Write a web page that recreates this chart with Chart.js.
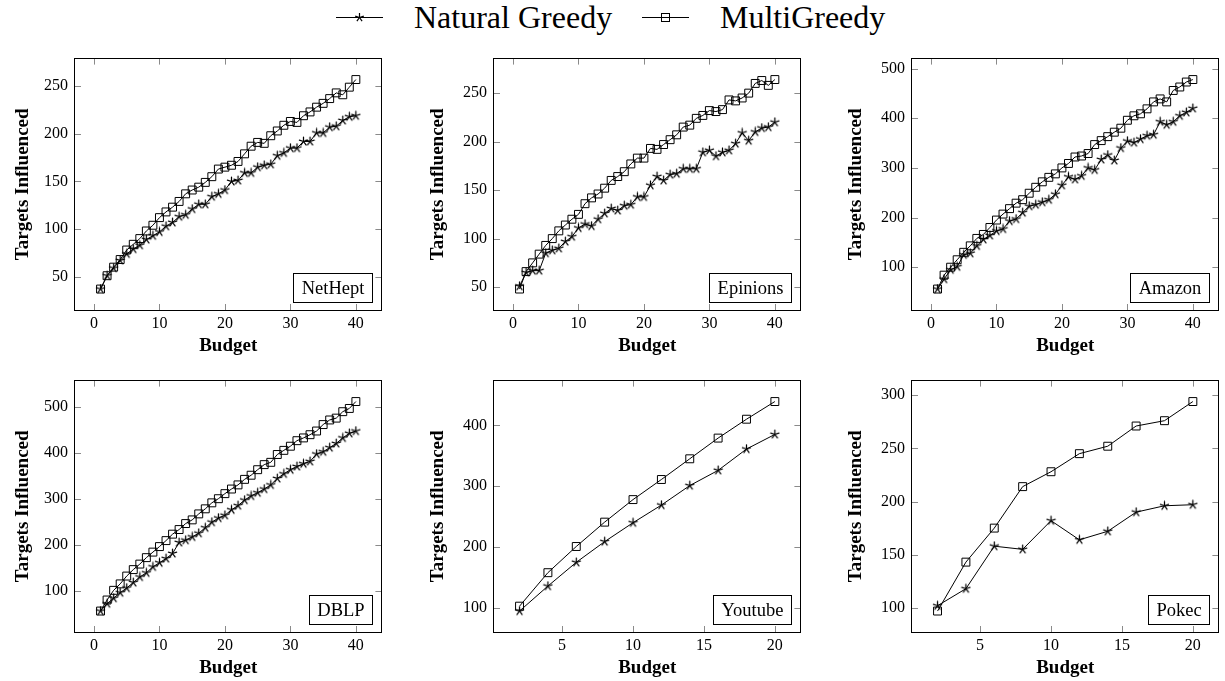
<!DOCTYPE html>
<html>
<head>
<meta charset="utf-8">
<script src="https://cdn.jsdelivr.net/npm/chart.js@4.4.0/dist/chart.umd.min.js"></script>
<style>
  html, body { margin: 0; padding: 0; background: #fff; }
  body { width: 1225px; height: 681px; overflow: hidden; position: relative; }
  canvas.panel { position: absolute; }
  .leg-text { position: absolute; top: 0; line-height: 34px; font-family: "Liberation Serif", "Times New Roman", serif; font-size: 32px; color: #000; white-space: nowrap; }
  .leg-icon { position: absolute; top: 0; }
</style>
</head>
<body>
<svg class="leg-icon" style="left:334px" width="52" height="34">
  <line x1="2" y1="17.5" x2="49" y2="17.5" stroke="#000" stroke-width="1"/>
  <g stroke="#000" stroke-width="1.2">
    <line x1="25.5" y1="17.5" x2="25.5" y2="13"/>
    <line x1="25.5" y1="17.5" x2="29.8" y2="16.1"/>
    <line x1="25.5" y1="17.5" x2="28.1" y2="21.1"/>
    <line x1="25.5" y1="17.5" x2="22.9" y2="21.1"/>
    <line x1="25.5" y1="17.5" x2="21.2" y2="16.1"/>
  </g>
</svg>
<span class="leg-text" style="left:414px">Natural Greedy</span>
<svg class="leg-icon" style="left:640px" width="52" height="34">
  <line x1="2" y1="17.5" x2="49" y2="17.5" stroke="#000" stroke-width="1"/>
  <rect x="21.5" y="13.5" width="8" height="8" fill="none" stroke="#000" stroke-width="1"/>
</svg>
<span class="leg-text" style="left:720px">MultiGreedy</span>

<canvas class="panel" id="c0"></canvas>
<canvas class="panel" id="c1"></canvas>
<canvas class="panel" id="c2"></canvas>
<canvas class="panel" id="c3"></canvas>
<canvas class="panel" id="c4"></canvas>
<canvas class="panel" id="c5"></canvas>

<script>
// ---------------- DATA ----------------
const budget40 = [1,2,3,4,5,6,7,8,9,10,11,12,13,14,15,16,17,18,19,20,21,22,23,24,25,26,27,28,29,30,31,32,33,34,35,36,37,38,39,40];
const budget20 = [2,4,6,8,10,12,14,16,18,20];

const seriesNames = ['Natural Greedy', 'MultiGreedy'];
const datasetNames = ['NetHept', 'Epinions', 'Amazon', 'DBLP', 'Youtube', 'Pokec'];

const netheptNG = [37,51,59,67,74,79,83,89,93,97,103,107,113,115,121,126,126,134,137,141,150,151,159,159,165,167,168,177,180,185,185,192,192,201,201,207,208,214,218,219];
const netheptMG = [37,51,60,68,78,84,90,98,104,112,118,123,129,137,141,144,149,155,163,165,167,171,179,187,191,190,198,203,209,213,212,219,223,228,232,237,243,241,249,257];

const epinionsNG = [51,65,67,67,85,88,90,97,102,111,115,113,120,126,131,129,134,135,143,143,155,164,160,166,167,172,172,172,189,191,185,189,191,198,209,201,210,214,215,220];
const epinionsMG = [48,66,75,84,93,100,108,114,120,125,136,142,146,152,160,164,169,177,183,183,193,192,197,202,207,215,217,224,227,232,231,233,243,242,245,250,260,263,258,264];

const amazonNG = [56,76,95,101,125,128,143,156,164,173,177,193,197,210,223,226,231,236,247,265,282,277,284,300,296,317,326,315,340,354,351,358,365,367,393,387,393,405,412,420];
const amazonMG = [56,84,100,115,130,143,158,166,180,195,207,218,229,236,249,261,272,281,288,300,309,322,324,329,347,355,363,372,380,396,405,409,419,433,439,433,456,463,473,478];

const dblpNG = [56,72,84,96,106,118,130,139,152,161,170,181,205,210,217,225,237,249,258,264,276,285,297,306,313,321,330,344,354,363,370,376,381,397,402,411,420,432,442,447];
const dblpMG = [56,80,101,115,132,146,158,172,184,196,209,223,233,246,254,267,278,291,300,311,321,330,342,351,363,374,379,396,405,414,426,432,439,447,461,471,475,489,496,511];

const youtubeNG = [95,136,175,209,240,269,301,326,361,385];
const youtubeMG = [103,158,201,241,278,311,345,379,410,439];

const pokecNG = [102,118,158,155,182,164,172,190,196,197];
const pokecMG = [97,143,175,214,228,245,252,271,276,294];

const xTicks40 = [0,10,20,30,40];
const xTicks20 = [5,10,15,20];
const yTicksNetHept = [50,100,150,200,250];
const yTicksEpinions = [50,100,150,200,250];
const yTicksAmazon = [100,200,300,400,500];
const yTicksDBLP = [100,200,300,400,500];
const yTicksYoutube = [100,200,300,400];
const yTicksPokec = [100,150,200,250,300];

const xTitle = 'Budget';
const yTitle = 'Targets Influenced';

// ---------------- LAYOUT / STYLE ----------------
const FONT = '"Liberation Serif", "Times New Roman", serif';
const plotLefts = [75, 494, 912];
const plotTops = [52, 374];
const plotW = 311, plotH = 258;
const YAXIS_W = 75, XAXIS_H = 50, PAD_TOP = 10, PAD_RIGHT = 2;
const yTitleOffset = [52, 56, 56]; // distance of y-title centre from plot left per column
const TICK_LEN = 6;

const panels = [
  { label: datasetNames[0], x: budget40, ng: netheptNG,  mg: netheptMG,  xt: xTicks40, yt: yTicksNetHept,  col: 0, row: 0 },
  { label: datasetNames[1], x: budget40, ng: epinionsNG, mg: epinionsMG, xt: xTicks40, yt: yTicksEpinions, col: 1, row: 0 },
  { label: datasetNames[2], x: budget40, ng: amazonNG,   mg: amazonMG,   xt: xTicks40, yt: yTicksAmazon,   col: 2, row: 0 },
  { label: datasetNames[3], x: budget40, ng: dblpNG,     mg: dblpMG,     xt: xTicks40, yt: yTicksDBLP,     col: 0, row: 1 },
  { label: datasetNames[4], x: budget20, ng: youtubeNG,  mg: youtubeMG,  xt: xTicks20, yt: yTicksYoutube,  col: 1, row: 1 },
  { label: datasetNames[5], x: budget20, ng: pokecNG,    mg: pokecMG,    xt: xTicks20, yt: yTicksPokec,    col: 2, row: 1 },
];

function makeStar(r) {
  const s = 11;
  const c = document.createElement('canvas');
  c.width = s; c.height = s;
  const g = c.getContext('2d');
  g.strokeStyle = '#000'; g.lineWidth = 1.25; g.lineCap = 'round';
  g.beginPath();
  for (let k = 0; k < 5; k++) {
    const a = -Math.PI / 2 + k * 2 * Math.PI / 5;
    g.moveTo(s / 2, s / 2);
    g.lineTo(s / 2 + r * Math.cos(a), s / 2 + r * Math.sin(a));
  }
  g.stroke();
  return c;
}
const starImg = makeStar(4.3);

const framePlugin = {
  id: 'frame',
  beforeDatasetsDraw(chart) {
    const { ctx, chartArea: { left, top, right, bottom }, scales: { x, y } } = chart;
    ctx.save();
    ctx.strokeStyle = '#8a8a8a';
    ctx.lineWidth = 1;
    ctx.beginPath();
    x.ticks.forEach(t => {
      const px = Math.round(x.getPixelForValue(t.value)) + 0.5;
      ctx.moveTo(px, bottom); ctx.lineTo(px, bottom - TICK_LEN);
      ctx.moveTo(px, top); ctx.lineTo(px, top + TICK_LEN);
    });
    y.ticks.forEach(t => {
      const py = Math.round(y.getPixelForValue(t.value)) + 0.5;
      ctx.moveTo(left, py); ctx.lineTo(left + TICK_LEN, py);
      ctx.moveTo(right, py); ctx.lineTo(right - TICK_LEN, py);
    });
    ctx.stroke();
    ctx.restore();
  },
  afterDraw(chart, args, opts) {
    const { ctx, chartArea: { left, top, right, bottom } } = chart;
    ctx.save();
    ctx.strokeStyle = '#000';
    ctx.lineWidth = 1;
    ctx.strokeRect(Math.round(left) - 0.5, Math.round(top) - 0.5, Math.round(right - left) + 1, Math.round(bottom - top) + 1);
    // dataset name box
    ctx.font = '18.5px ' + FONT;
    const tw = ctx.measureText(opts.label).width;
    const w = Math.round(tw + 16), h = 29;
    const bx = Math.round(right) - 9 - w, by = Math.round(bottom) - 8 - h;
    ctx.fillStyle = '#fff';
    ctx.fillRect(bx, by, w, h);
    ctx.strokeRect(bx + 0.5, by + 0.5, w, h);
    ctx.fillStyle = '#000';
    ctx.textAlign = 'center';
    ctx.textBaseline = 'middle';
    ctx.fillText(opts.label, bx + w / 2 + 0.5, by + h / 2 + 1.5);
    ctx.restore();
  }
};

panels.forEach((p, i) => {
  const cv = document.getElementById('c' + i);
  const cl = plotLefts[p.col] - YAXIS_W;
  const ct = plotTops[p.row] - PAD_TOP;
  const cw = YAXIS_W + plotW + PAD_RIGHT;
  const ch = PAD_TOP + plotH + XAXIS_H;
  cv.style.left = cl + 'px';
  cv.style.top = ct + 'px';
  cv.width = cw; cv.height = ch;
  cv.style.width = cw + 'px'; cv.style.height = ch + 'px';

  const xmin0 = Math.min(...p.x), xmax0 = Math.max(...p.x);
  const all = p.ng.concat(p.mg);
  const ymin0 = Math.min(...all), ymax0 = Math.max(...all);
  const ex = 0.1 * (xmax0 - xmin0), ey = 0.1 * (ymax0 - ymin0);

  const toPts = arr => arr.map((v, k) => ({ x: p.x[k], y: v }));

  new Chart(cv, {
    type: 'line',
    data: {
      datasets: [
        {
          label: seriesNames[0], data: toPts(p.ng),
          borderColor: '#000', borderWidth: 1, fill: false, tension: 0,
          pointStyle: starImg, pointRadius: 4, pointHoverRadius: 4
        },
        {
          label: seriesNames[1], data: toPts(p.mg),
          borderColor: '#000', borderWidth: 1, fill: false, tension: 0,
          pointStyle: 'rect', pointRadius: 5.6, pointHoverRadius: 5.6,
          pointBackgroundColor: 'rgba(0,0,0,0)', pointBorderColor: '#000', pointBorderWidth: 1
        }
      ]
    },
    options: {
      responsive: false, animation: false, devicePixelRatio: 1,
      events: [],
      layout: { padding: { top: PAD_TOP, right: PAD_RIGHT, left: 0, bottom: 0 } },
      plugins: { legend: { display: false }, tooltip: { enabled: false }, frame: { label: p.label } },
      scales: {
        x: {
          type: 'linear', min: xmin0 - ex, max: xmax0 + ex,
          grid: { display: false, drawTicks: false }, border: { display: false },
          ticks: { font: { family: FONT, size: 16 }, color: '#000', padding: 4.5, maxRotation: 0, autoSkip: false },
          afterBuildTicks: s => { s.ticks = p.xt.map(v => ({ value: v })); },
          afterFit: s => { s.height = XAXIS_H; },
          title: { display: true, text: xTitle, color: '#000', font: { family: FONT, size: 19, weight: 'bold' }, padding: { top: 0, bottom: 2.6 } }
        },
        y: {
          type: 'linear', min: ymin0 - ey, max: ymax0 + ey,
          grid: { display: false, drawTicks: false }, border: { display: false },
          ticks: { font: { family: FONT, size: 16 }, color: '#000', padding: 7, autoSkip: false },
          afterBuildTicks: s => { s.ticks = p.yt.map(v => ({ value: v })); },
          afterFit: s => { s.width = YAXIS_W; },
          title: { display: true, text: yTitle, color: '#000', font: { family: FONT, size: 19, weight: 'bold' }, padding: { top: YAXIS_W - yTitleOffset[p.col] - 11.4, bottom: 0 } }
        }
      }
    },
    plugins: [framePlugin]
  });
});
</script>
</body>
</html>
